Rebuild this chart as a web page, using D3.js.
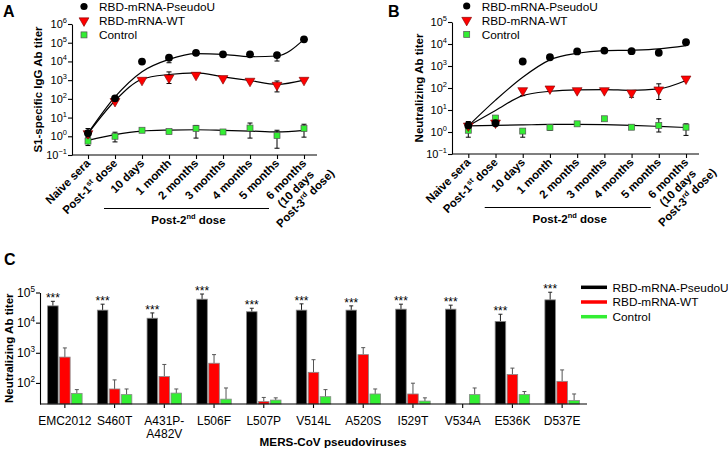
<!DOCTYPE html>
<html><head><meta charset="utf-8">
<script src="https://cdn.jsdelivr.net/npm/d3@7"></script>
<style>
body{margin:0;background:#fff;}
svg{font-family:"Liberation Sans",Arial,sans-serif;}
</style></head><body>
<svg id="c" width="728" height="452"></svg>
<script>
// ---------- DATA ----------
const timepoints = ["Naive sera","Post-1st dose","10 days","1 month","2 months","3 months","4 months","5 months","6 months"];
const lastLabelExtra = ["(10 days","Post-3rd dose)"];
const seriesNames = ["RBD-mRNA-PseudoU","RBD-mRNA-WT","Control"];

// Panel A: S1-specific IgG Ab titer
const aPseudo    = [1.45, 107, 9800, 15800, 28800, 24000, 24000, 21900, 151000];
const aPseudoLo  = [0.9, null, null, 8500, null, null, null, 10500, null];
const aPseudoHi  = [2.6, null, null, null, null, null, null, null, null];
const aPseudoFit = [1.45, 126, 2820, 12900, 26300, 24000, 17800, 19500, 151000];
const aWT        = [1.4, 74, 1000, 1320, 1860, 1230, 890, 540, 1000];
const aWTLo      = [null, null, null, 660, null, null, null, 235, null];
const aWTHi      = [null, null, null, 2750, null, null, null, 900, null];
const aWTFit     = [1.38, 79, 1120, 2000, 2450, 1510, 955, 600, 1000];
const aCtrl      = [0.55, 1.0, 2.1, 1.8, 2.6, 1.7, 2.75, 1.1, 2.6];
const aCtrlLo    = [0.32, 0.5, null, null, 0.8, null, 0.8, 0.23, 0.9];
const aCtrlHi    = [0.9, 1.65, null, null, 3.8, null, 5.1, 2.1, 4.4];
const aCtrlFit   = [0.6, 1.23, 1.9, 2.14, 2.24, 2.09, 1.9, 1.7, 2.09];
const aTicks     = [0.1, 1, 10, 100, 1000, 10000, 100000, 1000000];

// Panel B: Neutralizing Ab titer
const bPseudo    = [2.0, 2.5, 1600, 2500, 4600, 5000, 4700, 4000, 12000];
const bPseudoLo  = [null, null, null, null, null, null, null, null, null];
const bPseudoHi  = [3.0, null, null, null, null, null, null, null, null];
const bPseudoFit = [1.9, 28, 309, 1900, 3800, 5000, 5250, 6000, 8500];
const bWT        = [1.9, 2.6, 77, 92, 77, 77, 60, 83, 260];
const bWTLo      = [null, null, 45, null, null, null, 38, 30, null];
const bWTHi      = [null, null, null, null, null, null, null, 155, null];
const bWTFit     = [1.9, 9.5, 45, 71, 83, 85, 78, 91, 219];
const bCtrl      = [1.2, 4.3, 1.1, 1.6, 2.35, 4.0, 1.65, 2.0, 1.65];
const bCtrlLo    = [0.58, null, 0.58, 1.2, null, null, null, 1.0, 0.7];
const bCtrlHi    = [null, null, null, null, null, null, null, 4.0, 2.35];
const bCtrlFit   = [1.9, 2.0, 2.1, 2.2, 2.2, 2.15, 2.0, 1.8, 1.6];
const bTicks     = [0.1, 1, 10, 100, 1000, 10000, 100000];

// Panel C: pseudovirus neutralization
const variants   = ["EMC2012","S460T","A431P-\nA482V","L506F","L507P","V514L","A520S","I529T","V534A","E536K","D537E"];
const cPseudo    = [36000, 26000, 14000, 60000, 23000, 26000, 26000, 28000, 28000, 11000, 57000];
const cPseudoHi  = [51000, 41000, 21000, 89000, 30000, 42000, 36000, 41000, 38000, 19000, 102000];
const cWT        = [720, 63, 163, 450, 24, 225, 870, 43, null, 190, 113];
const cWTHi      = [1450, 126, 410, 870, 33, 590, 1480, 98, null, 310, 270];
const cCtrl      = [45, 41, 46, 29, 27, 35, 43, 25, 41, 41, 26];
const cCtrlHi    = [60, 63, 63, 68, 32, 60, 63, 32, 68, 52, 43];
const cSig       = ["***","***","***","***","***","***","***","***","***","***","***"];
const cTicks     = [100, 1000, 10000, 100000];

// ---------- STYLE ----------
const BLACK = "#000", RED = "#ff0000", GREEN = "#33ee33";
const svg = d3.select("#c");

function supText(sel, str, fs) {
  const m = str.match(/^(.*?\d)(st|nd|rd)(.*)$/);
  if (!m) { sel.append("tspan").text(str); return; }
  sel.append("tspan").text(m[1]);
  sel.append("tspan").attr("dy", -fs*0.4).attr("font-size", fs*0.65).text(m[2]);
  sel.append("tspan").attr("dy", fs*0.4).text(m[3]);
}
function expLabel(sel, v, fs) {
  const e = Math.round(Math.log10(v));
  sel.append("tspan").text("10");
  sel.append("tspan").attr("dy", -fs*0.45).attr("font-size", fs*0.68).text(String(e).replace("-","\u2212"));
}

function marker(g, type, cx, cy, big) {
  if (type === 0) {
    g.append("circle").attr("cx", cx).attr("cy", cy).attr("r", big ? 3.6 : 3.9).attr("fill", BLACK);
  } else if (type === 1) {
    const s = d3.symbol().type(d3.symbolTriangle).size(42)();
    g.append("path").attr("d", s).attr("transform", `translate(${cx},${cy}) rotate(180)`)
      .attr("fill", RED).attr("stroke", "#7a0000").attr("stroke-width", 0.6);
  } else {
    g.append("rect").attr("x", cx-3).attr("y", cy-3).attr("width", 6).attr("height", 6)
      .attr("fill", GREEN).attr("stroke", "#555").attr("stroke-width", 0.7);
  }
}

function scatterPanel(cfg) {
  const g = svg.append("g");
  const x = d3.scalePoint().domain(timepoints).range([cfg.tick0, cfg.tick1]);
  const y = d3.scaleLog().domain(cfg.domain).range([cfg.axisY, cfg.yTop]);
  const FS = 11.5;

  // y axis
  const ya = g.append("g").attr("transform", `translate(${cfg.axisX},0)`)
    .call(d3.axisLeft(y).tickValues(cfg.ticks).tickSize(4).tickSizeOuter(0).tickFormat(""));
  ya.selectAll("path,line").attr("stroke", "#000").attr("stroke-width", 1.1);
  cfg.ticks.forEach(v => {
    const t = g.append("text").attr("x", cfg.axisX - 5).attr("y", y(v) + 4)
      .attr("text-anchor", "end").attr("font-size", 11);
    expLabel(t, v, 11);
  });
  // x axis
  const xa = g.append("g").attr("transform", `translate(0,${cfg.axisY})`)
    .call(d3.axisBottom(x).tickSize(4).tickSizeOuter(0).tickFormat(""));
  xa.select(".domain").remove();
  xa.selectAll("line").attr("stroke", "#000").attr("stroke-width", 1.1);
  g.append("line").attr("x1", cfg.axisX).attr("x2", cfg.axisEnd).attr("y1", cfg.axisY).attr("y2", cfg.axisY)
    .attr("stroke", "#000").attr("stroke-width", 1.1);

  // x tick labels (rotated)
  const c45 = Math.SQRT1_2;
  timepoints.forEach((tp, i) => {
    const px = x(tp) + 3, py = cfg.axisY + 9;
    if (i === timepoints.length - 1) {
      const lines = [tp].concat(lastLabelExtra);
      const t = g.append("text").attr("text-anchor", "middle").attr("font-size", FS).attr("font-weight", "bold");
      const spans = lines.map((ln, k) => {
        const ts = t.append("tspan").attr("x", 0).attr("dy", k ? 13.5 : 0);
        supText(ts, ln, FS);
        return ts;
      });
      const w1 = spans[0].node().getComputedTextLength();
      t.attr("transform", `translate(${px - c45 * w1 / 2},${py + c45 * w1 / 2}) rotate(-45)`);
    } else {
      const t = g.append("text").attr("transform", `translate(${px},${py}) rotate(-45)`)
        .attr("text-anchor", "end").attr("font-size", FS).attr("font-weight", "bold");
      supText(t, tp, FS);
    }
  });
  // Post-2nd dose bracket
  const bx1 = x(timepoints[2]) - 38, bx2 = x(timepoints[7]) - 8;
  g.append("line").attr("x1", bx1).attr("x2", bx2).attr("y1", cfg.axisY + 53.5).attr("y2", cfg.axisY + 53.5)
    .attr("stroke", "#000").attr("stroke-width", 1.1);
  const pt = g.append("text").attr("x", (bx1 + bx2) / 2 + 2).attr("y", cfg.axisY + 69)
    .attr("text-anchor", "middle").attr("font-size", FS).attr("font-weight", "bold");
  supText(pt, "Post-2nd dose", FS);

  // y title
  g.append("text").attr("transform", `translate(${cfg.titleX},${(cfg.yTop + cfg.axisY) / 2}) rotate(-90)`)
    .attr("text-anchor", "middle").attr("font-size", FS).attr("font-weight", "bold").text(cfg.title);
  // panel letter
  g.append("text").attr("x", cfg.letterX).attr("y", 17).attr("font-size", 16).attr("font-weight", "bold").text(cfg.letter);

  // fitted curves
  const line = d3.line().x((d, i) => x(timepoints[i])).y(d => y(d)).curve(d3.curveMonotoneX);
  cfg.series.forEach(s => {
    g.append("path").attr("d", line(s.fit)).attr("fill", "none").attr("stroke", "#000").attr("stroke-width", 1.2);
  });
  // error bars
  cfg.series.forEach(s => {
    s.vals.forEach((v, i) => {
      const cx = x(timepoints[i]);
      [s.lo[i], s.hi[i]].forEach(e => {
        if (e == null) return;
        g.append("line").attr("x1", cx).attr("x2", cx).attr("y1", y(v)).attr("y2", y(e)).attr("stroke", "#000").attr("stroke-width", 1);
        g.append("line").attr("x1", cx - 2.5).attr("x2", cx + 2.5).attr("y1", y(e)).attr("y2", y(e)).attr("stroke", "#000").attr("stroke-width", 1);
      });
    });
  });
  // markers (control, WT, pseudo)
  [2, 1, 0].forEach(k => {
    const s = cfg.series[k];
    s.vals.forEach((v, i) => marker(g, k, x(timepoints[i]), y(v)));
  });
  // legend
  seriesNames.forEach((n, k) => {
    const ly = cfg.legY + k * 14.2;
    marker(g, k, cfg.legX, ly, true);
    g.append("text").attr("x", cfg.legX + 15).attr("y", ly + 4.5).attr("font-size", 11.8).text(n);
  });
}

scatterPanel({
  tick0: 88, tick1: 304, axisX: 72, axisEnd: 317, axisY: 155, yTop: 24,
  domain: [0.1, 1e6], ticks: aTicks, title: "S1-specific IgG Ab titer", titleX: 42, letter: "A", letterX: 3,
  legX: 84, legY: 6.5,
  series: [
    {vals: aPseudo, lo: aPseudoLo, hi: aPseudoHi, fit: aPseudoFit},
    {vals: aWT, lo: aWTLo, hi: aWTHi, fit: aWTFit},
    {vals: aCtrl, lo: aCtrlLo, hi: aCtrlHi, fit: aCtrlFit}
  ]
});
scatterPanel({
  tick0: 468.3, tick1: 686, axisX: 452, axisEnd: 699, axisY: 154, yTop: 22,
  domain: [0.1, 1e5], ticks: bTicks, title: "Neutralizing Ab titer", titleX: 423, letter: "B", letterX: 388,
  legX: 466.7, legY: 6,
  series: [
    {vals: bPseudo, lo: bPseudoLo, hi: bPseudoHi, fit: bPseudoFit},
    {vals: bWT, lo: bWTLo, hi: bWTHi, fit: bWTFit},
    {vals: bCtrl, lo: bCtrlLo, hi: bCtrlHi, fit: bCtrlFit}
  ]
});

// ---------- PANEL C ----------
(function () {
  const g = svg.append("g");
  const axisX = 40, axisEnd = 587, axisY = 404, yTop = 292.5;
  const x0 = d3.scaleBand().domain(variants).range([axisX, axisEnd]);
  const groupW = 34.5;
  const x1 = d3.scaleBand().domain(seriesNames).range([0, groupW]).paddingInner(0.12);
  const y = d3.scaleLog().domain([20, 100000]).range([axisY, yTop]);
  const vals = [cPseudo, cWT, cCtrl], his = [cPseudoHi, cWTHi, cCtrlHi], cols = [BLACK, RED, GREEN];

  const ya = g.append("g").attr("transform", `translate(${axisX},0)`)
    .call(d3.axisLeft(y).tickValues(cTicks).tickSize(4).tickSizeOuter(0).tickFormat(""));
  ya.selectAll("path,line").attr("stroke", "#000").attr("stroke-width", 1.1);
  cTicks.forEach(v => {
    const t = g.append("text").attr("x", axisX - 5).attr("y", y(v) + 4.5)
      .attr("text-anchor", "end").attr("font-size", 12);
    expLabel(t, v, 12);
  });
  const xa = g.append("g").attr("transform", `translate(0,${axisY})`)
    .call(d3.axisBottom(x0).tickSize(4).tickSizeOuter(0).tickFormat(""));
  xa.select(".domain").remove();
  xa.selectAll("line").attr("stroke", "#000").attr("stroke-width", 1.1);

  variants.forEach((v, i) => {
    const gx = x0(v) + (x0.bandwidth() - groupW) / 2;
    vals.forEach((arr, k) => {
      if (arr[i] == null) return;
      const bx = gx + x1(seriesNames[k]), bw = x1.bandwidth();
      const cx = bx + bw / 2;
      g.append("line").attr("x1", cx).attr("x2", cx).attr("y1", y(arr[i])).attr("y2", y(his[k][i]))
        .attr("stroke", k === 0 ? "#222" : "#555").attr("stroke-width", 1);
      g.append("line").attr("x1", cx - 2).attr("x2", cx + 2).attr("y1", y(his[k][i])).attr("y2", y(his[k][i]))
        .attr("stroke", k === 0 ? "#222" : "#555").attr("stroke-width", 1);
      g.append("rect").attr("x", bx).attr("y", y(arr[i])).attr("width", bw).attr("height", axisY - y(arr[i]))
        .attr("fill", cols[k]).attr("stroke", "#888").attr("stroke-width", 0.8);
    });
    g.append("text").attr("x", gx + x1(seriesNames[0]) + x1.bandwidth() / 2).attr("y", y(cPseudoHi[i]) + 1)
      .attr("text-anchor", "middle").attr("font-size", 12).text(cSig[i]);
    v.split("\n").forEach((ln, k) => {
      g.append("text").attr("x", x0(v) + x0.bandwidth() / 2).attr("y", 425 + k * 12.5)
        .attr("text-anchor", "middle").attr("font-size", 12).text(ln);
    });
  });
  g.append("line").attr("x1", axisX).attr("x2", axisEnd).attr("y1", axisY).attr("y2", axisY)
    .attr("stroke", "#000").attr("stroke-width", 1.1);

  g.append("text").attr("transform", `translate(13,${(axisY + yTop) / 2}) rotate(-90)`)
    .attr("text-anchor", "middle").attr("font-size", 11.6).attr("font-weight", "bold").text("Neutralizing Ab titer");
  g.append("text").attr("x", 333).attr("y", 446).attr("text-anchor", "middle")
    .attr("font-size", 11.7).attr("font-weight", "bold").text("MERS-CoV pseudoviruses");
  g.append("text").attr("x", 4).attr("y", 265).attr("font-size", 16).attr("font-weight", "bold").text("C");

  seriesNames.forEach((n, k) => {
    const ly = 287.3 + k * 14.7;
    g.append("line").attr("x1", 581).attr("x2", 607).attr("y1", ly).attr("y2", ly)
      .attr("stroke", cols[k]).attr("stroke-width", 3.5);
    g.append("text").attr("x", 612.5).attr("y", ly + 4.3).attr("font-size", 11.8).text(n);
  });
})();
</script>
</body></html>
